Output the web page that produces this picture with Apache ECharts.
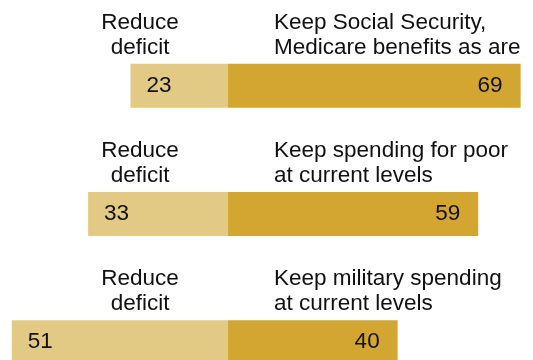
<!DOCTYPE html>
<html>
<head>
<meta charset="utf-8">
<script src="https://cdn.jsdelivr.net/npm/echarts@6/dist/echarts.min.js"></script>
<style>
  html, body { margin: 0; padding: 0; background: #fff; }
  #chart { width: 533px; height: 360px; }
</style>
</head>
<body>
<div id="chart"></div>
<script>
// ---- data ----
const categories = ['Social Security, Medicare', 'Spending for poor', 'Military spending'];
const reduceDeficit = [23, 33, 51];
const keepSpending = [69, 59, 40];
const reduceLabels = ['Reduce\ndeficit', 'Reduce\ndeficit', 'Reduce\ndeficit'];
const keepLabels = [
  'Keep Social Security,\nMedicare benefits as are',
  'Keep spending for poor\nat current levels',
  'Keep military spending\nat current levels'
];

const FONT = "'Liberation Sans', Arial, sans-serif";
const LIGHT = '#E2CA84';
const DARK = '#D2A630';

const chart = echarts.init(document.getElementById('chart'), null, { renderer: 'canvas' });

const option = {
  animation: false,
  backgroundColor: '#ffffff',
  grid: { left: 3.3, right: 3.9, top: 85.8, height: 256.4, containLabel: false },
  xAxis: {
    type: 'value', min: -53, max: 71,
    show: false
  },
  yAxis: {
    type: 'category', data: categories, inverse: true, boundaryGap: false,
    show: false
  },
  series: [
    {
      name: 'Reduce deficit',
      type: 'bar',
      stack: 'total',
      barWidth: 44,
      data: reduceDeficit.map(v => -v),
      itemStyle: { color: LIGHT },
      label: {
        show: true, position: 'insideLeft', distance: 16,
        formatter: p => Math.abs(p.value),
        fontFamily: FONT, fontSize: 22.5, color: '#111'
      }
    },
    {
      name: 'Keep',
      type: 'bar',
      stack: 'total',
      barWidth: 44,
      data: keepSpending,
      itemStyle: { color: DARK },
      label: {
        show: true, position: 'insideRight', distance: 18,
        fontFamily: FONT, fontSize: 22.5, color: '#111'
      }
    }
  ]
};
chart.setOption(option);

// headings above each bar
const centerX = chart.convertToPixel({ xAxisIndex: 0 }, 0);
const graphics = [];
categories.forEach((c, i) => {
  const cy = chart.convertToPixel({ yAxisIndex: 0 }, c);
  const barTop = cy - 22;
  graphics.push({
    type: 'text', x: centerX - 88, y: barTop - 4,
    style: {
      text: reduceLabels[i], fontFamily: FONT, fontSize: 22.5, lineHeight: 25,
      fill: '#111', align: 'center', verticalAlign: 'bottom'
    }
  });
  graphics.push({
    type: 'text', x: centerX + 46, y: barTop - 4,
    style: {
      text: keepLabels[i], fontFamily: FONT, fontSize: 22.5, lineHeight: 25,
      fill: '#111', align: 'left', verticalAlign: 'bottom'
    }
  });
});
chart.setOption({ graphic: graphics });
</script>
</body>
</html>
